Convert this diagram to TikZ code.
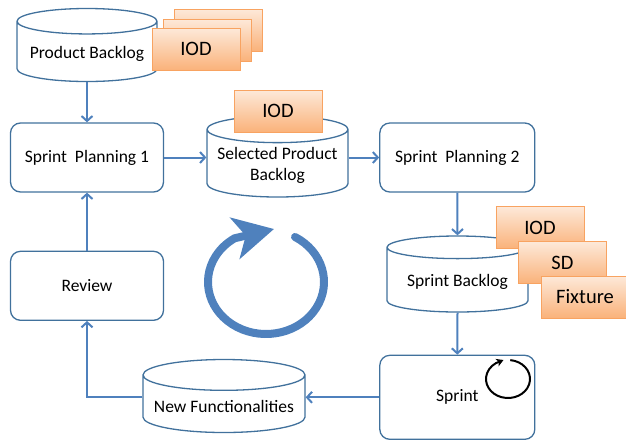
\documentclass[tikz,border=0pt]{standalone}
\usepackage{fontspec}
\setmainfont{Carlito}
\usetikzlibrary{arrows.meta}
\usetikzlibrary{positioning}
\usetikzlibrary{shapes.geometric}
\definecolor{boxblue}{HTML}{41719C}
\definecolor{arrowblue}{HTML}{4F81BD}
\definecolor{cardtop}{HTML}{FDE9D9}
\definecolor{cardbottom}{HTML}{FAB27A}
\definecolor{cardline}{HTML}{F8A361}

\begin{document}
\begin{tikzpicture}[
		x=1pt, y=-1pt,
		font=\fontsize{17.5}{21}\selectfont,
		arrow/.style={line width=2pt, draw=arrowblue, -{Straight Barb[length=5pt,width=11pt]}},
		stepbox/.style={draw=boxblue, line width=1.3pt, rounded corners=10pt, minimum width=153pt, minimum height=69pt},
		store/.style={cylinder, shape border rotate=90, aspect=0.21, draw=boxblue, line width=1.3pt, fill=white, align=center, anchor=shape center},
		card/.style={draw=cardline, line width=0.8pt, top color=cardtop, bottom color=cardbottom, minimum width=88pt, minimum height=42pt, font=\fontsize{20.5}{24}\selectfont},
	]
	\useasboundingbox (0,0) rectangle (626,440);

	\node (sp1) [stepbox] at (87,157.5) {Sprint\ \ Planning 1};
	\node (review) [stepbox, below=58pt of sp1] {Review};
	\node (sp2) [stepbox, minimum width=155pt, right=215pt of sp1] {Sprint\ \ Planning 2};
	\node (sprint) [stepbox, minimum width=155pt, minimum height=84pt, below=162pt of sp2] {Sprint};

	\node (pb) [store, minimum width=140pt, minimum height=73pt] at (87,45) {Product Backlog};
	\node (spb) [store, minimum width=141pt, minimum height=81pt] at (277.5,156.5) {Selected Product\\Backlog};
	\node (sb) [store, minimum width=141pt, minimum height=76pt] at (457.5,274) {Sprint Backlog};
	\node (nf) [store, minimum width=162pt, minimum height=73pt] at (224,396) {New Functionalities};

	% artefacts on the stores
	\node (iodback) [card] at (218.5,30) {};
	\node (iodmid) [card] at (207,40) {};
	\node (iodpb) [card] at (196,49) {IOD};
	\node (iodspb) [card] at (278,111) {IOD};
	\node (iodsb) [card] at (540,227.5) {IOD};
	\node (sdsb) [card] at (562.5,262.5) {SD};
	\node (fixsb) [card] at (585,297) {Fixture};

	\draw[arrow] (pb.south) -- (sp1.north);
	\draw[arrow] (sp1.east) -- (sp1.east -| spb.west);
	\draw[arrow] (spb.east |- sp2.west) -- (sp2.west);
	\draw[arrow] (sp2.south) -- (sb.north);
	\draw[arrow] (sb.south) -- (sprint.north);
	\draw[arrow] (sprint.west) -- (sprint.west -| nf.east);
	\draw[arrow] (nf.west |- sprint.west) -| (review.south);
	\draw[arrow] (review.north) -- (sp1.south);

	% iteration loops
	\coordinate (loop) at (266,282);
	\coordinate (spin) at (508,379);
	\draw[line width=8pt, arrowblue, line cap=round, -{Stealth[length=40pt,width=42pt,inset=11pt]}]
		(loop) ++(-60:58 and 52) arc[start angle=-60, end angle=237.2, x radius=58, y radius=52] -- (274,229);
	\draw[line width=2pt, black, -{Stealth[length=7pt,width=8pt,inset=2pt]}]
		(spin) ++(-84:22 and 19) arc[start angle=-84, end angle=237, x radius=22, y radius=19] -- (503.5,360);
\end{tikzpicture}
\end{document}
